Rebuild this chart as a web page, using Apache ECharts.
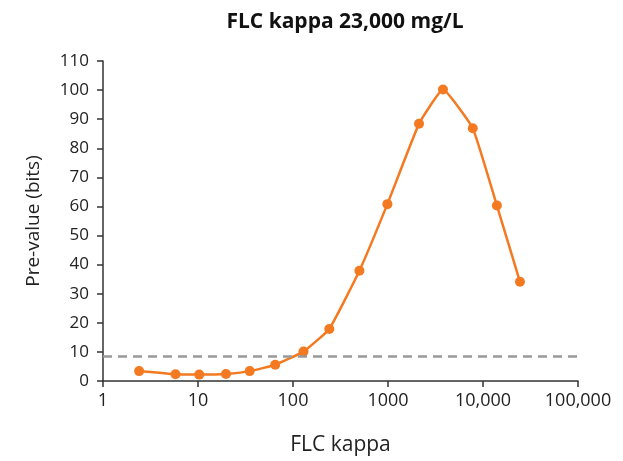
<!DOCTYPE html>
<html lang="en">
<head>
    <meta charset="UTF-8">
    <title>FLC kappa 23,000 mg/L</title>
    <script src="https://cdn.jsdelivr.net/npm/echarts@6/dist/echarts.min.js"></script>
    <style>
        * { margin: 0; padding: 0; box-sizing: border-box; }
        body { background: #fff; }
        #chart { width: 623px; height: 461px; }
    </style>
</head>
<body>
    <div id="chart"></div>
    <script>
        // FLC kappa concentrations (log scale) and pre-value in bits
        const kappa = [2.4, 5.8, 10.3, 19.7, 35, 65, 129, 241, 500, 985, 2120, 3790, 7800, 14000, 24500];
        const preValue = [3.4, 2.3, 2.2, 2.4, 3.4, 5.6, 10.1, 17.9, 37.9, 60.8, 88.4, 100.2, 86.9, 60.3, 34.1];
        const threshold = 8.5;

        const orange = '#f47a22';
        const fontFamily = '"Open Sans", "Noto Sans", sans-serif';

        const chart = echarts.init(document.getElementById('chart'));
        chart.setOption({
            animation: false,
            textStyle: { fontFamily: fontFamily },
            title: {
                text: 'FLC kappa 23,000 mg/L',
                left: 340,
                textAlign: 'center',
                top: 7,
                textStyle: { fontSize: 21, fontWeight: 'bold', color: '#111', fontFamily: fontFamily }
            },
            grid: { left: 103, right: 45, top: 61, bottom: 80 },
            xAxis: {
                type: 'log',
                logBase: 10,
                min: 1,
                max: 100000,
                name: 'FLC kappa',
                nameLocation: 'middle',
                nameGap: 54,
                nameTextStyle: { fontSize: 21, color: '#222' },
                axisLine: { lineStyle: { color: '#333', width: 1.5 } },
                axisTick: { show: true, length: 6, lineStyle: { color: '#333', width: 1.5 } },
                minorTick: { show: false },
                splitLine: { show: false },
                axisLabel: {
                    fontSize: 18,
                    color: '#222',
                    margin: 11,
                    formatter: function (v) {
                        return v >= 10000 ? v.toLocaleString('en-US') : String(v);
                    }
                }
            },
            yAxis: {
                type: 'value',
                min: 0,
                max: 110,
                interval: 10,
                name: 'Pre-value (bits)',
                nameLocation: 'middle',
                nameGap: 60,
                nameTextStyle: { fontSize: 19, color: '#222' },
                axisLine: { show: true, lineStyle: { color: '#333', width: 1.5 } },
                axisTick: { show: true, length: 6, lineStyle: { color: '#333', width: 1.5 } },
                splitLine: { show: false },
                axisLabel: { fontSize: 17, color: '#222', margin: 14 }
            },
            series: [
                {
                    type: 'line',
                    data: kappa.map(function (k, i) { return [k, preValue[i]]; }),
                    smooth: 0.12,
                    symbol: 'circle',
                    symbolSize: 10,
                    itemStyle: { color: orange },
                    lineStyle: { color: orange, width: 2.5 },
                    markLine: {
                        silent: true,
                        symbol: 'none',
                        label: { show: false },
                        lineStyle: { color: '#999', type: [9, 6], width: 2.5 },
                        data: [{ yAxis: threshold }]
                    }
                }
            ]
        });
    </script>
</body>
</html>
